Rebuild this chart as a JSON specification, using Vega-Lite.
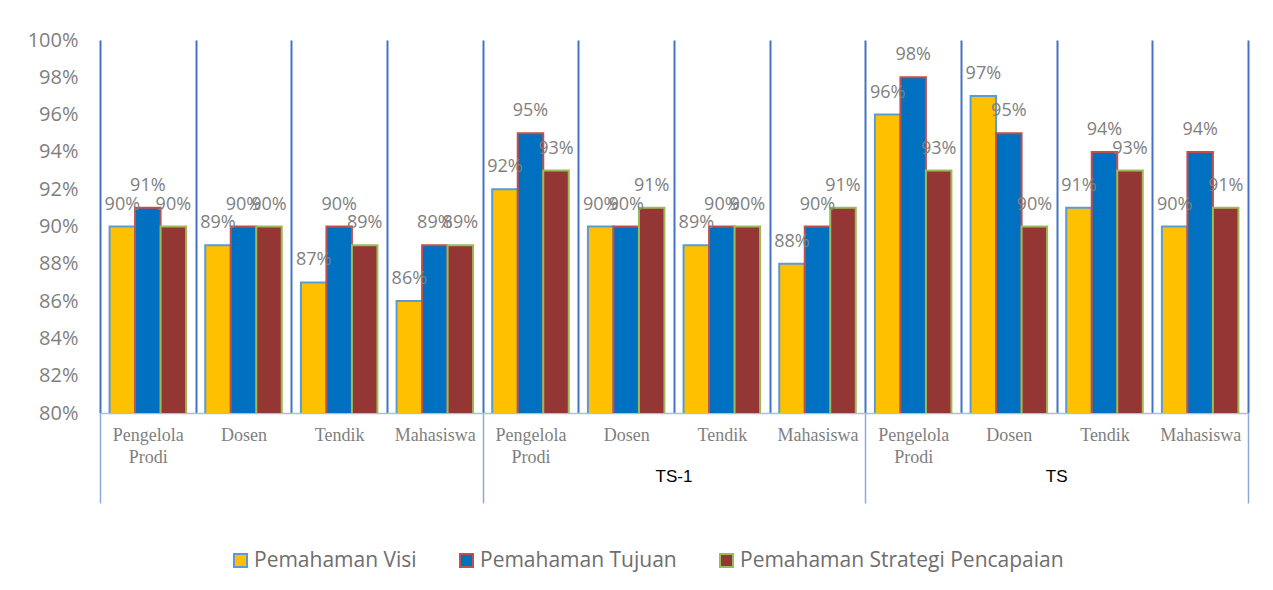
{
  "$schema": "https://vega.github.io/schema/vega-lite/v6.json",
  "width": 1148,
  "height": 373,
  "autosize": {"type": "none"},
  "padding": {"left": 100, "top": 40, "right": 25, "bottom": 177},
  "background": "white",
  "config": {"view": {"stroke": null}},
  "layer": [
    {
      "data": {"values": [
        {"kolom": "1|Pengelola Prodi", "aspek": "Pemahaman Visi", "nilai": 0.90},
        {"kolom": "1|Pengelola Prodi", "aspek": "Pemahaman Tujuan", "nilai": 0.91},
        {"kolom": "1|Pengelola Prodi", "aspek": "Pemahaman Strategi Pencapaian", "nilai": 0.90},
        {"kolom": "1|Dosen", "aspek": "Pemahaman Visi", "nilai": 0.89},
        {"kolom": "1|Dosen", "aspek": "Pemahaman Tujuan", "nilai": 0.90},
        {"kolom": "1|Dosen", "aspek": "Pemahaman Strategi Pencapaian", "nilai": 0.90},
        {"kolom": "1|Tendik", "aspek": "Pemahaman Visi", "nilai": 0.87},
        {"kolom": "1|Tendik", "aspek": "Pemahaman Tujuan", "nilai": 0.90},
        {"kolom": "1|Tendik", "aspek": "Pemahaman Strategi Pencapaian", "nilai": 0.89},
        {"kolom": "1|Mahasiswa", "aspek": "Pemahaman Visi", "nilai": 0.86},
        {"kolom": "1|Mahasiswa", "aspek": "Pemahaman Tujuan", "nilai": 0.89},
        {"kolom": "1|Mahasiswa", "aspek": "Pemahaman Strategi Pencapaian", "nilai": 0.89},
        {"kolom": "2|Pengelola Prodi", "aspek": "Pemahaman Visi", "nilai": 0.92},
        {"kolom": "2|Pengelola Prodi", "aspek": "Pemahaman Tujuan", "nilai": 0.95},
        {"kolom": "2|Pengelola Prodi", "aspek": "Pemahaman Strategi Pencapaian", "nilai": 0.93},
        {"kolom": "2|Dosen", "aspek": "Pemahaman Visi", "nilai": 0.90},
        {"kolom": "2|Dosen", "aspek": "Pemahaman Tujuan", "nilai": 0.90},
        {"kolom": "2|Dosen", "aspek": "Pemahaman Strategi Pencapaian", "nilai": 0.91},
        {"kolom": "2|Tendik", "aspek": "Pemahaman Visi", "nilai": 0.89},
        {"kolom": "2|Tendik", "aspek": "Pemahaman Tujuan", "nilai": 0.90},
        {"kolom": "2|Tendik", "aspek": "Pemahaman Strategi Pencapaian", "nilai": 0.90},
        {"kolom": "2|Mahasiswa", "aspek": "Pemahaman Visi", "nilai": 0.88},
        {"kolom": "2|Mahasiswa", "aspek": "Pemahaman Tujuan", "nilai": 0.90},
        {"kolom": "2|Mahasiswa", "aspek": "Pemahaman Strategi Pencapaian", "nilai": 0.91},
        {"kolom": "3|Pengelola Prodi", "aspek": "Pemahaman Visi", "nilai": 0.96},
        {"kolom": "3|Pengelola Prodi", "aspek": "Pemahaman Tujuan", "nilai": 0.98},
        {"kolom": "3|Pengelola Prodi", "aspek": "Pemahaman Strategi Pencapaian", "nilai": 0.93},
        {"kolom": "3|Dosen", "aspek": "Pemahaman Visi", "nilai": 0.97},
        {"kolom": "3|Dosen", "aspek": "Pemahaman Tujuan", "nilai": 0.95},
        {"kolom": "3|Dosen", "aspek": "Pemahaman Strategi Pencapaian", "nilai": 0.90},
        {"kolom": "3|Tendik", "aspek": "Pemahaman Visi", "nilai": 0.91},
        {"kolom": "3|Tendik", "aspek": "Pemahaman Tujuan", "nilai": 0.94},
        {"kolom": "3|Tendik", "aspek": "Pemahaman Strategi Pencapaian", "nilai": 0.93},
        {"kolom": "3|Mahasiswa", "aspek": "Pemahaman Visi", "nilai": 0.90},
        {"kolom": "3|Mahasiswa", "aspek": "Pemahaman Tujuan", "nilai": 0.94},
        {"kolom": "3|Mahasiswa", "aspek": "Pemahaman Strategi Pencapaian", "nilai": 0.91}
      ]},
      "encoding": {
        "x": {
          "field": "kolom", "type": "nominal", "sort": null,
          "scale": {"paddingInner": 0, "paddingOuter": 0},
          "axis": {
            "orient": "bottom", "title": null, "tickBand": "extent",
            "grid": true, "gridColor": "#4472C4", "gridWidth": 2,
            "domainColor": "#A9BFE3", "domainWidth": 1.5,
            "tickSize": 90, "tickWidth": 1.5,
            "tickColor": {"condition": {"test": "datum.extra || indexof(['1|Mahasiswa','2|Mahasiswa','3|Mahasiswa'], datum.value) >= 0", "value": "#8EAADB"}, "value": "rgba(0,0,0,0)"},
            "labelExpr": "datum.label ? split(split(datum.label, '|')[1], ' ') : ''",
            "labelFont": "Liberation Serif", "labelFontSize": 18, "labelColor": "#7F7F7F",
            "labelPadding": -77, "labelAngle": 0, "labelBaseline": "top", "labelLineHeight": 22,
            "labelOverlap": false, "labelBound": false
          }
        },
        "xOffset": {
          "field": "aspek", "type": "nominal",
          "scale": {"domain": ["Pemahaman Visi", "Pemahaman Tujuan", "Pemahaman Strategi Pencapaian"], "paddingInner": 0, "paddingOuter": 0.375}
        },
        "y": {
          "field": "nilai", "type": "quantitative",
          "scale": {"domain": [0.8, 1.0], "zero": false, "nice": false},
          "axis": {
            "title": null, "format": ".0%", "values": [0.8, 0.82, 0.84, 0.86, 0.88, 0.9, 0.92, 0.94, 0.96, 0.98, 1.0],
            "domain": false, "ticks": false, "grid": false,
            "labelFont": "Open Sans", "labelFontSize": 20, "labelColor": "#7F7F7F", "labelPadding": 22
          }
        }
      },
      "layer": [
        {
          "mark": {"type": "bar", "strokeWidth": 2, "clip": true},
          "encoding": {
            "fill": {
              "field": "aspek", "type": "nominal",
              "scale": {"domain": ["Pemahaman Visi", "Pemahaman Tujuan", "Pemahaman Strategi Pencapaian"], "range": ["#FFC000", "#0070C0", "#943634"]},
              "legend": {"orient": "none", "legendX": 130, "legendY": 510, "direction": "horizontal", "title": null, "labelFont": "Open Sans", "labelFontSize": 21, "labelColor": "#6E6E6E", "symbolType": "square", "symbolSize": 169, "symbolStrokeWidth": 2, "columnPadding": 39, "labelOffset": 3, "labelLimit": 500}
            },
            "stroke": {
              "field": "aspek", "type": "nominal",
              "scale": {"domain": ["Pemahaman Visi", "Pemahaman Tujuan", "Pemahaman Strategi Pencapaian"], "range": ["#5B9BD5", "#C0504D", "#9BBB59"]},
              "legend": {"orient": "none", "legendX": 130, "legendY": 510, "direction": "horizontal", "title": null, "labelFont": "Open Sans", "labelFontSize": 21, "labelColor": "#6E6E6E", "symbolType": "square", "symbolSize": 169, "symbolStrokeWidth": 2, "columnPadding": 39, "labelOffset": 3, "labelLimit": 500}
            }
          }
        },
        {
          "mark": {"type": "text", "font": "Open Sans", "fontSize": 18, "fill": "#7F7F7F", "baseline": "alphabetic", "align": "center", "dy": -17},
          "encoding": {
            "text": {"field": "nilai", "type": "quantitative", "format": ".0%"}
          }
        }
      ]
    },
    {
      "data": {"values": [{"grup": " "}, {"grup": "TS-1"}, {"grup": "TS"}]},
      "mark": {"type": "rule", "opacity": 0},
      "encoding": {
        "x": {
          "field": "grup", "type": "nominal", "sort": null,
          "scale": {"type": "band", "paddingInner": 0, "paddingOuter": 0},
          "axis": {
            "orient": "bottom", "title": null, "domain": false, "ticks": false, "tickSize": 0, "grid": false,
            "labelFont": "Liberation Sans", "labelFontSize": 17, "labelColor": "#000000",
            "labelPadding": 55, "labelAngle": 0, "labelBaseline": "top", "labelOverlap": false
          }
        }
      }
    }
  ],
  "resolve": {"scale": {"x": "independent"}, "axis": {"x": "independent"}}
}
